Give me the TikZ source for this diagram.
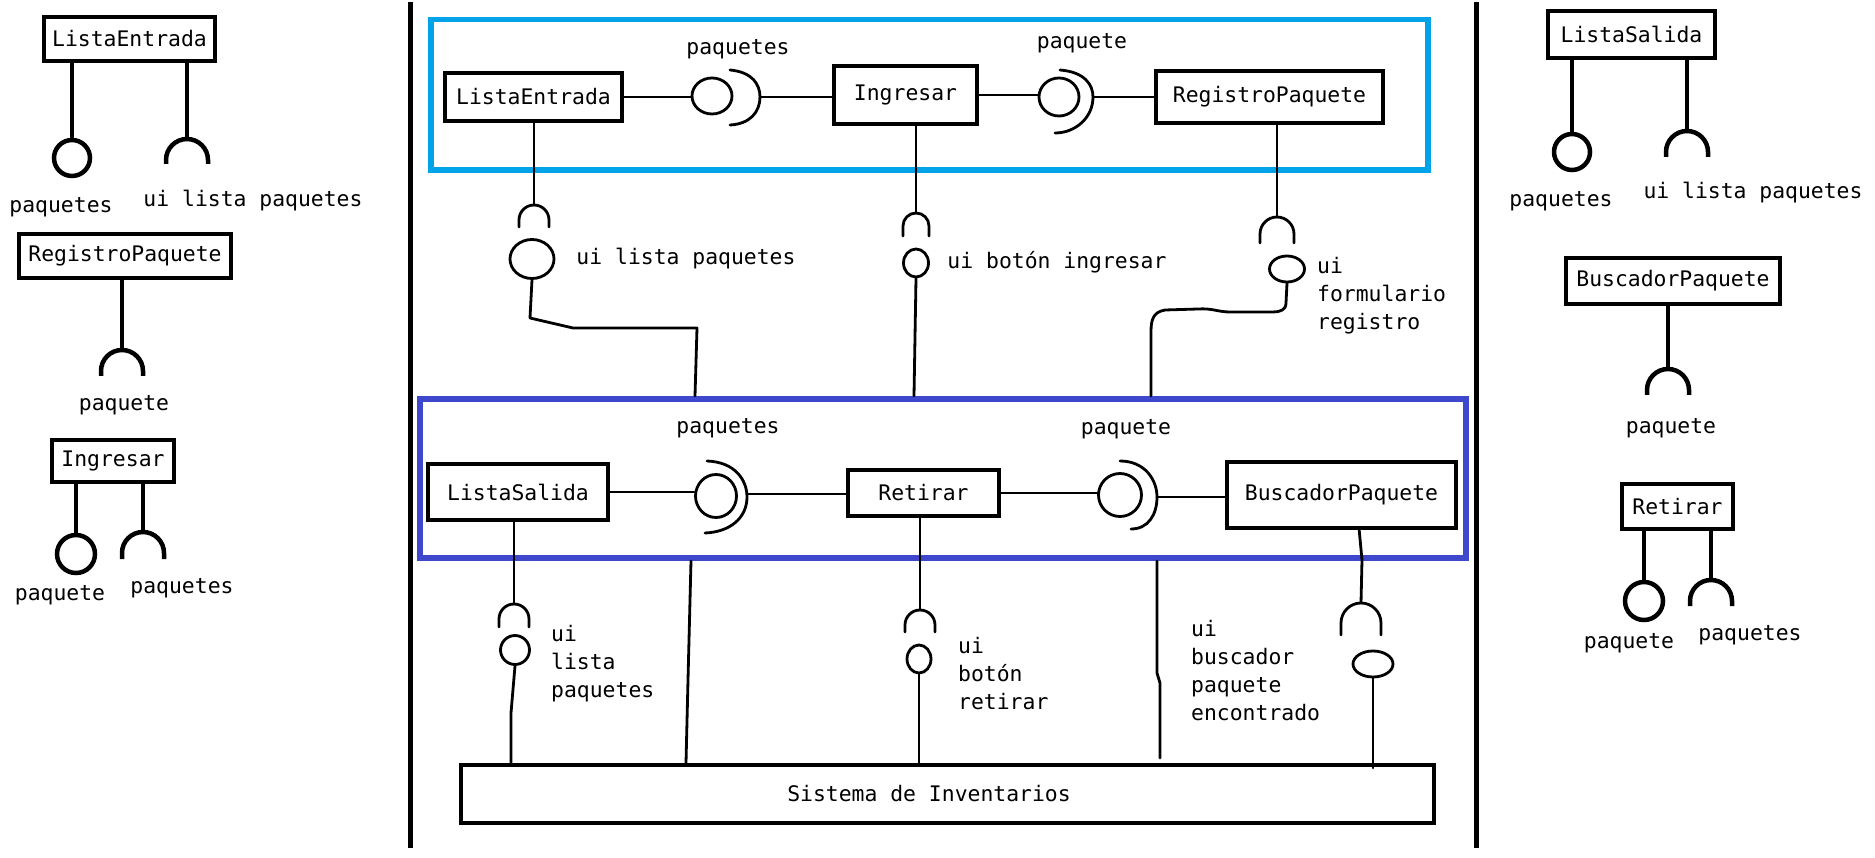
\documentclass[tikz,border=0pt]{standalone}
\usepackage{fontspec}
\newfontfamily\mono{DejaVu Sans Mono}
\usetikzlibrary{shapes.geometric}
\definecolor{grpAcol}{RGB}{0,162,232}
\definecolor{grpBcol}{RGB}{63,72,204}
\newcommand\lblfont{\mono\fontsize{21.4pt}{28pt}\selectfont}
% #1 style, #2 name (top point), #3 cx, #4 cy, #5 r, #6 y of the ends
\newcommand\sockV[6]{%
  \draw[#1] ({#3-#5},#6) -- ({#3-#5},#4)
    .. controls ({#3-#5},{#4-0.552*#5}) and ({#3-0.552*#5},{#4-#5}) .. (#3,{#4-#5})
    .. controls ({#3+0.552*#5},{#4-#5}) and ({#3+#5},{#4-0.552*#5}) .. ({#3+#5},#4)
    -- ({#3+#5},#6);
  \coordinate (#2) at (#3,{#4-#5});}
\tikzset{
  box/.style={draw, line width=4.3pt, inner sep=0pt, font=\lblfont},
  conn/.style={line width=2.8pt, line cap=round, line join=round},
  sline/.style={line width=4.5pt},
  pcirc/.style={draw, circle, line width=4.5pt, inner sep=0pt},
  ball/.style={draw, ellipse, line width=2.8pt, inner sep=0pt},
  lbl/.style={font=\lblfont, inner sep=0pt},
  mlbl/.style={lbl, align=left, anchor=north west},
  grp/.style={draw, line width=5.5pt, inner sep=0pt},
  sepline/.style={line width=5pt}
}
\begin{document}
\begin{tikzpicture}[x=1pt,y=-1pt]
\fill[white] (0,0) rectangle (1875,858);
\useasboundingbox (0,0) rectangle (1875,858);

% separators
\draw[sepline] (410,2) -- (410,848);
\draw[sepline] (1476,2) -- (1476,848);

% ---------------- left column ----------------
\node[box, minimum width=171, minimum height=44] (LEL) at (129.5,39) {ListaEntrada};
\node[pcirc, minimum size=36] (cL1) at (72,158) {};
\draw[sline] (cL1.north |- LEL.south) -- (cL1.north);
\sockV{sline}{aL1}{187}{160}{21}{164}
\draw[sline] (aL1 |- LEL.south) -- (aL1);
\node[lbl] at (61,207) {paquetes};
\node[lbl] at (253,201) {ui lista paquetes};

\node[box, minimum width=212, minimum height=44] (RPL) at (125,256) {RegistroPaquete};
\sockV{sline}{aL2}{122}{371}{21}{376}
\draw[sline] (aL2 |- RPL.south) -- (aL2);
\node[lbl] at (124,405) {paquete};

\node[box, minimum width=122, minimum height=42] (INL) at (113,461) {Ingresar};
\node[pcirc, minimum size=38] (cL3) at (76,554) {};
\draw[sline] (cL3.north |- INL.south) -- (cL3.north);
\sockV{sline}{aL3}{143}{553}{21}{559}
\draw[sline] (aL3 |- INL.south) -- (aL3);
\node[lbl] at (60,595) {paquete};
\node[lbl] at (182,588) {paquetes};

% ---------------- right column ----------------
\node[box, minimum width=167, minimum height=47] (LSR) at (1631.5,34.5) {ListaSalida};
\node[pcirc, minimum size=36] (cR1) at (1572,152) {};
\draw[sline] (cR1.north |- LSR.south) -- (cR1.north);
\sockV{sline}{aR1}{1687}{152}{21}{157}
\draw[sline] (aR1 |- LSR.south) -- (aR1);
\node[lbl] at (1561,201) {paquetes};
\node[lbl] at (1753,193) {ui lista paquetes};

\node[box, minimum width=214, minimum height=46] (BPR) at (1673,281) {BuscadorPaquete};
\sockV{sline}{aR2}{1668}{390}{21}{395}
\draw[sline] (aR2 |- BPR.south) -- (aR2);
\node[lbl] at (1671,428) {paquete};

\node[box, minimum width=111, minimum height=45] (RTR) at (1677.5,506.5) {Retirar};
\node[pcirc, minimum size=38] (cR3) at (1644,601) {};
\draw[sline] (cR3.north |- RTR.south) -- (cR3.north);
\sockV{sline}{aR3}{1711}{601}{21}{606}
\draw[sline] (aR3 |- RTR.south) -- (aR3);
\node[lbl] at (1629,643) {paquete};
\node[lbl] at (1750,635) {paquetes};

% ---------------- groups ----------------
\node[grp, draw=grpAcol, minimum width=997, minimum height=150.5] (GA) at (929.5,94.75) {};
\node[grp, draw=grpBcol, minimum width=1046, minimum height=159] (GB) at (943,478.5) {};

% ---------------- top row ----------------
\node[box, minimum width=177, minimum height=48] (LE) at (533.5,97) {ListaEntrada};
\node[box, minimum width=143, minimum height=58] (IN) at (905.5,95) {Ingresar};
\node[box, minimum width=227, minimum height=52] (RP) at (1269.5,97) {RegistroPaquete};

\node[ball, minimum width=40, minimum height=36] (b1) at (712,96) {};
\draw[conn] (LE.east) -- (LE.east -| b1.west);
\draw[conn] (730,70) .. controls (752,72) and (760,84) .. (760,97)
  .. controls (760,112) and (750,124) .. (730,125);
\coordinate (s1) at (760,97);
\draw[conn] (s1) -- (s1 -| IN.west);
\node[lbl] at (738,49) {paquetes};

\node[ball, minimum width=40, minimum height=38] (b2) at (1059,97) {};
\draw[conn] (IN.east) -- (IN.east -| b2.west);
\draw[conn] (1060,70) .. controls (1085,72) and (1093,85) .. (1093,97)
  .. controls (1093,118) and (1075,133) .. (1055,133);
\coordinate (s2) at (1093,97);
\draw[conn] (s2) -- (s2 -| RP.west);
\node[lbl] at (1082,43) {paquete};

% top verticals
\sockV{conn}{s3}{534}{220}{15}{227}
\draw[conn] (s3 |- LE.south) -- (s3);
\node[ball, minimum width=44, minimum height=39] (b3) at (532,259) {};
\coordinate (j3) at (695,396);
\draw[conn] (b3.south) -- (530,318) -- (573,328) -- (697,328) -- (j3);
\node[lbl] at (686,259) {ui lista paquetes};

\sockV{conn}{s4}{916}{226}{13}{236}
\draw[conn] (s4 |- IN.south) -- (s4);
\node[ball, minimum width=25, minimum height=28] (b4) at (916,263) {};
\coordinate (j4) at (914,396);
\draw[conn] (b4.south) -- (j4);
\node[lbl] at (1057,262) {ui botón ingresar};

\sockV{conn}{s5}{1277}{234}{17}{243}
\draw[conn] (s5 |- RP.south) -- (s5);
\node[ball, minimum width=35, minimum height=26] (b5) at (1287,269) {};
\coordinate (j5) at (1151,396);
\draw[conn] (b5.south) -- (1286,303) .. controls (1286,310) and (1280,312) .. (1273,312)
  -- (1230,312) .. controls (1218,312) and (1212,308) .. (1198,309) -- (1165,310)
  .. controls (1153,312) and (1151,320) .. (1151,332) -- (j5);
\node[mlbl] at (1317,257) {ui\\formulario\\registro};

% ---------------- bottom row ----------------
\node[box, minimum width=180, minimum height=56] (LS) at (518,492) {ListaSalida};
\node[box, minimum width=151, minimum height=46] (RT) at (923.5,493) {Retirar};
\node[box, minimum width=229, minimum height=66] (BP) at (1341.5,495) {BuscadorPaquete};

\node[ball, minimum width=41, minimum height=43] (b6) at (716,496) {};
\draw[conn] (LS.east) -- (LS.east -| b6.west);
\draw[conn] (707,461) .. controls (735,462) and (747,480) .. (747,497)
  .. controls (747,518) and (730,532) .. (705,533);
\coordinate (s6) at (747,494);
\draw[conn] (s6) -- (s6 -| RT.west);
\node[lbl] at (728,428) {paquetes};

\node[ball, minimum width=43, minimum height=43] (b7) at (1120,495) {};
\draw[conn] (RT.east) -- (RT.east -| b7.west);
\draw[conn] (1120,461) .. controls (1145,461) and (1157,480) .. (1157,497)
  .. controls (1157,515) and (1148,529) .. (1131,529);
\coordinate (s7) at (1157,497);
\draw[conn] (s7) -- (s7 -| BP.west);
\node[lbl] at (1126,429) {paquete};

\node[box, minimum width=973, minimum height=58] (SI) at (947.5,794) {\hspace*{-37pt}Sistema de Inventarios};

% bottom verticals
\sockV{conn}{s8}{514}{619}{15}{627}
\draw[conn] (s8 |- LS.south) -- (s8);
\node[ball, minimum width=29, minimum height=29] (b8) at (515,650) {};
\coordinate (j8) at (511,763);
\draw[conn] (b8.south) -- (511,713) -- (j8);
\node[mlbl] at (551,625) {ui\\lista\\paquetes};

\coordinate (t9) at (691,561);
\coordinate (e9) at (686,763);
\draw[conn] (t9) -- (688,680) -- (e9);

\sockV{conn}{s10}{920}{625}{15}{632}
\draw[conn] (s10 |- RT.south) -- (s10);
\node[ball, minimum width=24, minimum height=28] (b10) at (919,659) {};
\draw[conn] (b10.south) -- (b10.south |- SI.north);
\node[mlbl] at (958,637) {ui\\botón\\retirar};

\coordinate (t11) at (1157,561);
\coordinate (e11) at (1160,758);
\draw[conn] (t11) -- (1157,673) -- (1160,683) -- (e11);
\node[mlbl] at (1191,620) {ui\\buscador\\paquete\\encontrado};

\sockV{conn}{s12}{1361}{623}{20}{635}
\draw[conn] (1359,528) -- (1362,560) -- (s12);
\node[ball, minimum width=40, minimum height=26] (b12) at (1373,664) {};
\coordinate (e12) at (1373,768);
\draw[conn] (b12.south) -- (e12);
\end{tikzpicture}
\end{document}
